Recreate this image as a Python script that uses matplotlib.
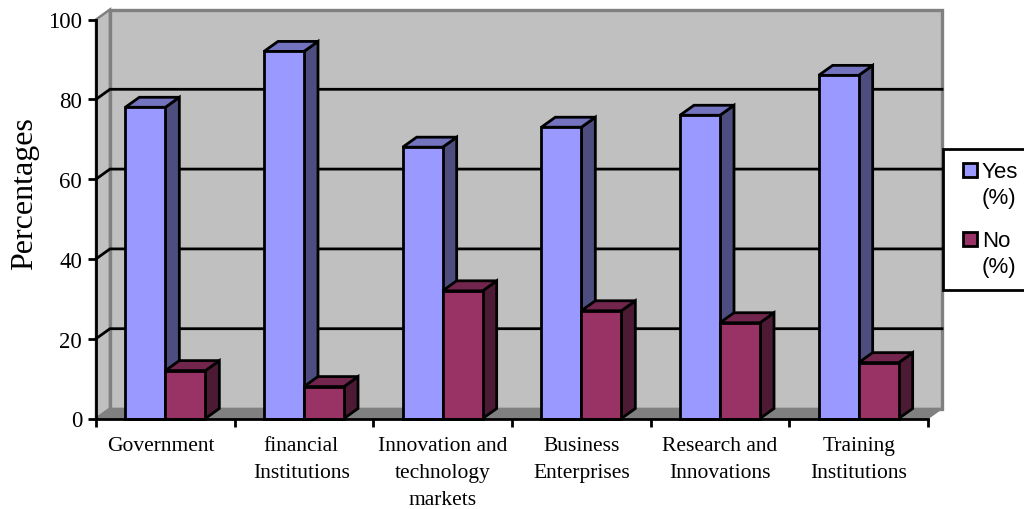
import numpy as np
import matplotlib
matplotlib.use('Agg')
import matplotlib.pyplot as plt
from matplotlib.patches import Polygon, Rectangle

categories = ['Government', 'financial\nInstitutions', 'Innovation and\ntechnology\nmarkets',
              'Business\nEnterprises', 'Research and\nInnovations', 'Training\nInstitutions']
yes_pct = [78, 92, 68, 73, 76, 86]
no_pct = [12, 8, 32, 27, 24, 14]
y_ticks = [0, 20, 40, 60, 80, 100]
label_nudge = [-0.03, -0.02, 0, 0, 0, 0]

W, H = 1024, 510
fig = plt.figure(figsize=(W / 100, H / 100), dpi=100)
# plot area: x 96-928 px, y 419.5-20.5 px
ax = fig.add_axes([96 / W, 1 - 419.5 / H, 832 / W, 399 / H])
ax.set_xlim(0, 6)
ax.set_ylim(0, 100)
ax.patch.set_alpha(0)

# 3d depth in data units
dx = 14 / (832 / 6)
dy = 10 / 3.99
bar_w = 40 / (832 / 6)
lw = 2.0


def poly(pts, fc, ec='black', z=2, w=lw):
    ax.add_patch(Polygon(pts, closed=True, facecolor=fc, edgecolor=ec, linewidth=w,
                         joinstyle='miter', zorder=z, clip_on=False))


# walls and floor
poly([(0, 0), (dx, dy), (dx, 100 + dy), (0, 100)], '#c0c0c0', '#808080', 1, 1.8)
poly([(dx, dy), (6 + dx, dy), (6 + dx, 100 + dy), (dx, 100 + dy)], '#c0c0c0', '#808080', 1, 2.4)
poly([(0, 0), (6, 0), (6 + dx, dy), (dx, dy)], '#808080', '#808080', 1, 1)

# gridlines
for t in y_ticks[1:-1]:
    ax.plot([0, dx, 6 + dx], [t, t + dy, t + dy], color='black', lw=lw, zorder=1.5, clip_on=False,
            solid_joinstyle='miter')


def bar3d(x, v, front, top, side):
    poly([(x + bar_w, 0), (x + bar_w + dx, dy), (x + bar_w + dx, v + dy), (x + bar_w, v)], side)
    poly([(x, v), (x + bar_w, v), (x + bar_w + dx, v + dy), (x + dx, v + dy)], top)
    poly([(x, 0), (x + bar_w, 0), (x + bar_w, v), (x, v)], front)


for i in range(len(categories)):
    c = i + 0.5
    bar3d(c - bar_w, yes_pct[i], '#9999ff', '#7373bf', '#4d4d80')
    bar3d(c, no_pct[i], '#993366', '#73264d', '#4d1a33')

# axes
for s in ['top', 'right']:
    ax.spines[s].set_visible(False)
for s in ['left', 'bottom']:
    ax.spines[s].set_linewidth(lw)
    ax.spines[s].set_zorder(5)
ax.set_xticks(np.arange(7))
ax.set_xticklabels([])
ax.set_yticks(y_ticks)
ax.tick_params(axis='both', length=6, width=lw, color='black')
ax.tick_params(axis='y', labelsize=16.5, pad=4)
for lab in ax.get_yticklabels():
    lab.set_family('Liberation Serif')

for i, name in enumerate(categories):
    ax.text(i + 0.5 + label_nudge[i], -4.3, name, ha='center', va='top', fontsize=15.5,
            family='Liberation Serif', linespacing=1.6, clip_on=False)

ax.set_ylabel('Percentages', fontsize=23, family='Liberation Serif')
ax.yaxis.set_label_coords(-0.0685, 0.567)

# legend box, runs off the right edge
fig.add_artist(Rectangle((943 / W, 1 - 291 / H), 100 / W, 141 / H, transform=fig.transFigure,
                         facecolor='white', edgecolor='black', linewidth=lw))
for y0, label, col in [(171, 'Yes\n(%)', '#9999ff'), (240, 'No\n(%)', '#993366')]:
    fig.add_artist(Rectangle((963 / W, 1 - (y0 + 7) / H), 14 / W, 14 / H, transform=fig.transFigure,
                             facecolor=col, edgecolor='black', linewidth=lw))
    fig.text(982 / W, 1 - (y0 - 9) / H, label, ha='left', va='top', fontsize=16,
             family='Liberation Sans', linespacing=1.3)

fig.savefig('out.png', dpi=100)
